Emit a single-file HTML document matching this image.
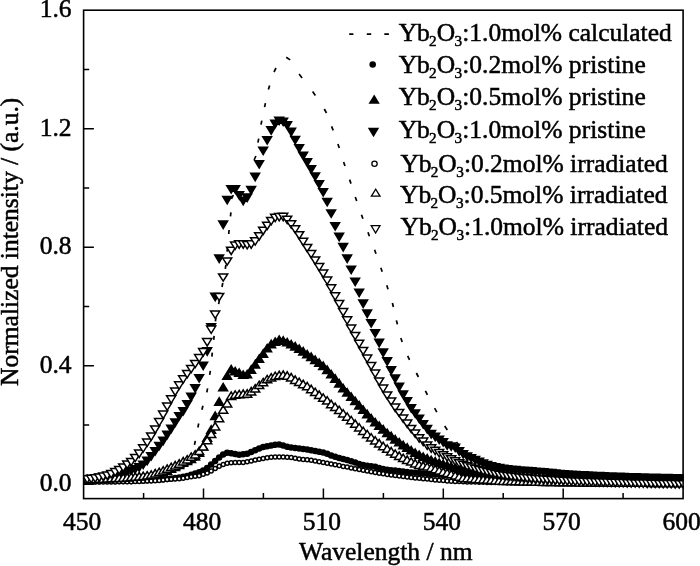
<!DOCTYPE html>
<html lang="en"><head><meta charset="utf-8"><title>Normalized intensity vs wavelength</title>
<style>
html,body{margin:0;padding:0;background:#fff}
body{width:700px;height:566px;overflow:hidden}
svg{display:block}
text{font-family:"Liberation Serif",serif;font-size:25.5px;fill:#000;stroke:#000;stroke-width:0.5px}
.sub{font-size:15.2px}
</style></head><body>
<svg width="700" height="566" viewBox="0 0 700 566">
<rect width="700" height="566" fill="#fff"/>
<defs><clipPath id="pc"><rect x="83.6" y="10.2" width="600.1" height="488.4"/></clipPath></defs>

<g clip-path="url(#pc)">
<g stroke="#000" stroke-width="1.7" fill="none" stroke-linecap="butt">
<path d="M191.1 462.4L191.9 458.4"/>
<path d="M194.5 444.9L195.3 440.9"/>
<path d="M197.9 427.5L198.7 423.5"/>
<path d="M201.9 409.8L202.9 405.8"/>
<path d="M206.8 392.4L207.6 388.4"/>
<path d="M209.7 374.9L210.3 370.9"/>
<path d="M211.9 356.7L212.3 352.7"/>
<path d="M213.7 339.9L214.1 335.9"/>
<path d="M215.4 321.3L216.0 317.3"/>
<path d="M218.6 304.1L219.4 300.1"/>
<path d="M222.0 287.0L222.8 283.0"/>
<path d="M225.3 268.8L225.9 264.8"/>
<path d="M227.1 251.6L227.5 247.6"/>
<path d="M228.7 234.0L229.1 230.0"/>
<path d="M230.5 216.3L230.9 212.3"/>
<path d="M231.5 199.0L233.3 195.0"/>
<path d="M254.1 160.0L255.9 156.0"/>
<path d="M257.9 142.7L258.7 138.7"/>
<path d="M261.0 124.7L261.8 120.7"/>
<path d="M264.6 107.2L265.4 103.2"/>
<path d="M268.4 89.4L269.6 85.4"/>
<path d="M274.0 72.0L276.0 68.0"/>
<path d="M286.2 57.3L290.2 59.9"/>
<path d="M299.1 74.0L302.1 78.0"/>
<path d="M312.6 91.4L315.4 95.4"/>
<path d="M324.3 109.0L326.5 113.0"/>
<path d="M331.6 126.4L333.2 130.4"/>
<path d="M337.9 144.0L339.3 148.0"/>
<path d="M343.6 162.0L345.0 166.0"/>
<path d="M349.6 179.6L351.0 183.6"/>
<path d="M355.3 197.0L356.7 201.0"/>
<path d="M361.5 214.7L362.9 218.7"/>
<path d="M368.0 232.3L369.4 236.3"/>
<path d="M374.6 249.8L376.0 253.8"/>
<path d="M380.8 267.8L382.2 271.8"/>
<path d="M386.8 285.2L388.0 289.2"/>
<path d="M392.4 303.0L393.4 307.0"/>
<path d="M396.4 320.4L397.4 324.4"/>
<path d="M400.8 338.0L402.2 342.0"/>
<path d="M407.7 355.9L409.5 359.9"/>
<path d="M416.4 373.0L418.4 377.0"/>
<path d="M425.4 390.9L427.4 394.9"/>
<path d="M434.6 408.2L436.8 412.2"/>
<path d="M444.7 426.0L447.3 430.0"/>
<path d="M456.5 442.0L459.5 446.0"/>
</g>
<path fill="#000" d="M80.0 481.2a3.25 3.25 0 1 0 6.5 0a3.25 3.25 0 1 0 -6.5 0zM84.0 481.2a3.25 3.25 0 1 0 6.5 0a3.25 3.25 0 1 0 -6.5 0zM88.0 481.2a3.25 3.25 0 1 0 6.5 0a3.25 3.25 0 1 0 -6.5 0zM92.0 481.2a3.25 3.25 0 1 0 6.5 0a3.25 3.25 0 1 0 -6.5 0zM96.0 481.2a3.25 3.25 0 1 0 6.5 0a3.25 3.25 0 1 0 -6.5 0zM100.0 481.1a3.25 3.25 0 1 0 6.5 0a3.25 3.25 0 1 0 -6.5 0zM104.0 481.1a3.25 3.25 0 1 0 6.5 0a3.25 3.25 0 1 0 -6.5 0zM108.0 481.1a3.25 3.25 0 1 0 6.5 0a3.25 3.25 0 1 0 -6.5 0zM112.0 481.1a3.25 3.25 0 1 0 6.5 0a3.25 3.25 0 1 0 -6.5 0zM116.0 481.0a3.25 3.25 0 1 0 6.5 0a3.25 3.25 0 1 0 -6.5 0zM120.0 481.0a3.25 3.25 0 1 0 6.5 0a3.25 3.25 0 1 0 -6.5 0zM124.0 480.9a3.25 3.25 0 1 0 6.5 0a3.25 3.25 0 1 0 -6.5 0zM127.9 480.9a3.25 3.25 0 1 0 6.5 0a3.25 3.25 0 1 0 -6.5 0zM131.9 480.7a3.25 3.25 0 1 0 6.5 0a3.25 3.25 0 1 0 -6.5 0zM135.9 480.6a3.25 3.25 0 1 0 6.5 0a3.25 3.25 0 1 0 -6.5 0zM139.9 480.4a3.25 3.25 0 1 0 6.5 0a3.25 3.25 0 1 0 -6.5 0zM143.9 480.3a3.25 3.25 0 1 0 6.5 0a3.25 3.25 0 1 0 -6.5 0zM147.9 480.0a3.25 3.25 0 1 0 6.5 0a3.25 3.25 0 1 0 -6.5 0zM151.9 479.8a3.25 3.25 0 1 0 6.5 0a3.25 3.25 0 1 0 -6.5 0zM155.9 479.6a3.25 3.25 0 1 0 6.5 0a3.25 3.25 0 1 0 -6.5 0zM159.9 479.3a3.25 3.25 0 1 0 6.5 0a3.25 3.25 0 1 0 -6.5 0zM163.9 479.0a3.25 3.25 0 1 0 6.5 0a3.25 3.25 0 1 0 -6.5 0zM167.9 478.6a3.25 3.25 0 1 0 6.5 0a3.25 3.25 0 1 0 -6.5 0zM171.9 478.1a3.25 3.25 0 1 0 6.5 0a3.25 3.25 0 1 0 -6.5 0zM175.9 477.5a3.25 3.25 0 1 0 6.5 0a3.25 3.25 0 1 0 -6.5 0zM179.9 476.8a3.25 3.25 0 1 0 6.5 0a3.25 3.25 0 1 0 -6.5 0zM183.9 475.9a3.25 3.25 0 1 0 6.5 0a3.25 3.25 0 1 0 -6.5 0zM187.9 474.8a3.25 3.25 0 1 0 6.5 0a3.25 3.25 0 1 0 -6.5 0zM191.9 473.5a3.25 3.25 0 1 0 6.5 0a3.25 3.25 0 1 0 -6.5 0zM195.9 472.2a3.25 3.25 0 1 0 6.5 0a3.25 3.25 0 1 0 -6.5 0zM199.9 470.5a3.25 3.25 0 1 0 6.5 0a3.25 3.25 0 1 0 -6.5 0zM203.9 468.0a3.25 3.25 0 1 0 6.5 0a3.25 3.25 0 1 0 -6.5 0zM207.9 464.5a3.25 3.25 0 1 0 6.5 0a3.25 3.25 0 1 0 -6.5 0zM211.9 461.0a3.25 3.25 0 1 0 6.5 0a3.25 3.25 0 1 0 -6.5 0zM215.9 457.5a3.25 3.25 0 1 0 6.5 0a3.25 3.25 0 1 0 -6.5 0zM219.9 454.5a3.25 3.25 0 1 0 6.5 0a3.25 3.25 0 1 0 -6.5 0zM223.9 452.8a3.25 3.25 0 1 0 6.5 0a3.25 3.25 0 1 0 -6.5 0zM227.9 453.2a3.25 3.25 0 1 0 6.5 0a3.25 3.25 0 1 0 -6.5 0zM231.9 454.0a3.25 3.25 0 1 0 6.5 0a3.25 3.25 0 1 0 -6.5 0zM235.9 454.8a3.25 3.25 0 1 0 6.5 0a3.25 3.25 0 1 0 -6.5 0zM239.9 454.3a3.25 3.25 0 1 0 6.5 0a3.25 3.25 0 1 0 -6.5 0zM243.9 453.8a3.25 3.25 0 1 0 6.5 0a3.25 3.25 0 1 0 -6.5 0zM247.9 452.0a3.25 3.25 0 1 0 6.5 0a3.25 3.25 0 1 0 -6.5 0zM251.9 450.3a3.25 3.25 0 1 0 6.5 0a3.25 3.25 0 1 0 -6.5 0zM255.9 448.6a3.25 3.25 0 1 0 6.5 0a3.25 3.25 0 1 0 -6.5 0zM259.9 447.0a3.25 3.25 0 1 0 6.5 0a3.25 3.25 0 1 0 -6.5 0zM263.9 446.2a3.25 3.25 0 1 0 6.5 0a3.25 3.25 0 1 0 -6.5 0zM267.9 445.6a3.25 3.25 0 1 0 6.5 0a3.25 3.25 0 1 0 -6.5 0zM271.9 444.8a3.25 3.25 0 1 0 6.5 0a3.25 3.25 0 1 0 -6.5 0zM275.9 444.6a3.25 3.25 0 1 0 6.5 0a3.25 3.25 0 1 0 -6.5 0zM279.9 445.5a3.25 3.25 0 1 0 6.5 0a3.25 3.25 0 1 0 -6.5 0zM283.9 446.8a3.25 3.25 0 1 0 6.5 0a3.25 3.25 0 1 0 -6.5 0zM287.9 447.5a3.25 3.25 0 1 0 6.5 0a3.25 3.25 0 1 0 -6.5 0zM291.9 448.0a3.25 3.25 0 1 0 6.5 0a3.25 3.25 0 1 0 -6.5 0zM295.9 448.5a3.25 3.25 0 1 0 6.5 0a3.25 3.25 0 1 0 -6.5 0zM299.9 448.9a3.25 3.25 0 1 0 6.5 0a3.25 3.25 0 1 0 -6.5 0zM303.9 449.5a3.25 3.25 0 1 0 6.5 0a3.25 3.25 0 1 0 -6.5 0zM307.9 450.3a3.25 3.25 0 1 0 6.5 0a3.25 3.25 0 1 0 -6.5 0zM311.9 451.1a3.25 3.25 0 1 0 6.5 0a3.25 3.25 0 1 0 -6.5 0zM315.9 451.8a3.25 3.25 0 1 0 6.5 0a3.25 3.25 0 1 0 -6.5 0zM319.9 452.5a3.25 3.25 0 1 0 6.5 0a3.25 3.25 0 1 0 -6.5 0zM323.9 453.8a3.25 3.25 0 1 0 6.5 0a3.25 3.25 0 1 0 -6.5 0zM327.9 455.4a3.25 3.25 0 1 0 6.5 0a3.25 3.25 0 1 0 -6.5 0zM331.9 456.8a3.25 3.25 0 1 0 6.5 0a3.25 3.25 0 1 0 -6.5 0zM335.9 458.0a3.25 3.25 0 1 0 6.5 0a3.25 3.25 0 1 0 -6.5 0zM339.9 459.0a3.25 3.25 0 1 0 6.5 0a3.25 3.25 0 1 0 -6.5 0zM343.9 460.0a3.25 3.25 0 1 0 6.5 0a3.25 3.25 0 1 0 -6.5 0zM347.9 461.2a3.25 3.25 0 1 0 6.5 0a3.25 3.25 0 1 0 -6.5 0zM351.9 462.5a3.25 3.25 0 1 0 6.5 0a3.25 3.25 0 1 0 -6.5 0zM355.9 463.9a3.25 3.25 0 1 0 6.5 0a3.25 3.25 0 1 0 -6.5 0zM359.9 465.0a3.25 3.25 0 1 0 6.5 0a3.25 3.25 0 1 0 -6.5 0zM363.9 465.7a3.25 3.25 0 1 0 6.5 0a3.25 3.25 0 1 0 -6.5 0zM367.9 466.2a3.25 3.25 0 1 0 6.5 0a3.25 3.25 0 1 0 -6.5 0zM371.9 466.8a3.25 3.25 0 1 0 6.5 0a3.25 3.25 0 1 0 -6.5 0zM375.9 467.9a3.25 3.25 0 1 0 6.5 0a3.25 3.25 0 1 0 -6.5 0zM379.9 469.0a3.25 3.25 0 1 0 6.5 0a3.25 3.25 0 1 0 -6.5 0zM383.9 469.7a3.25 3.25 0 1 0 6.5 0a3.25 3.25 0 1 0 -6.5 0zM387.9 470.2a3.25 3.25 0 1 0 6.5 0a3.25 3.25 0 1 0 -6.5 0zM391.9 470.6a3.25 3.25 0 1 0 6.5 0a3.25 3.25 0 1 0 -6.5 0zM395.9 471.1a3.25 3.25 0 1 0 6.5 0a3.25 3.25 0 1 0 -6.5 0zM399.9 471.5a3.25 3.25 0 1 0 6.5 0a3.25 3.25 0 1 0 -6.5 0zM403.9 471.9a3.25 3.25 0 1 0 6.5 0a3.25 3.25 0 1 0 -6.5 0zM407.9 472.4a3.25 3.25 0 1 0 6.5 0a3.25 3.25 0 1 0 -6.5 0zM411.9 472.8a3.25 3.25 0 1 0 6.5 0a3.25 3.25 0 1 0 -6.5 0zM415.9 473.1a3.25 3.25 0 1 0 6.5 0a3.25 3.25 0 1 0 -6.5 0zM419.9 473.5a3.25 3.25 0 1 0 6.5 0a3.25 3.25 0 1 0 -6.5 0zM423.9 473.8a3.25 3.25 0 1 0 6.5 0a3.25 3.25 0 1 0 -6.5 0zM427.9 474.2a3.25 3.25 0 1 0 6.5 0a3.25 3.25 0 1 0 -6.5 0zM431.9 474.5a3.25 3.25 0 1 0 6.5 0a3.25 3.25 0 1 0 -6.5 0zM435.9 474.7a3.25 3.25 0 1 0 6.5 0a3.25 3.25 0 1 0 -6.5 0zM439.9 475.0a3.25 3.25 0 1 0 6.5 0a3.25 3.25 0 1 0 -6.5 0zM443.9 475.2a3.25 3.25 0 1 0 6.5 0a3.25 3.25 0 1 0 -6.5 0zM447.9 475.5a3.25 3.25 0 1 0 6.5 0a3.25 3.25 0 1 0 -6.5 0zM451.9 475.7a3.25 3.25 0 1 0 6.5 0a3.25 3.25 0 1 0 -6.5 0zM455.9 475.9a3.25 3.25 0 1 0 6.5 0a3.25 3.25 0 1 0 -6.5 0zM459.9 476.2a3.25 3.25 0 1 0 6.5 0a3.25 3.25 0 1 0 -6.5 0zM463.9 476.4a3.25 3.25 0 1 0 6.5 0a3.25 3.25 0 1 0 -6.5 0zM467.9 476.6a3.25 3.25 0 1 0 6.5 0a3.25 3.25 0 1 0 -6.5 0zM471.9 476.7a3.25 3.25 0 1 0 6.5 0a3.25 3.25 0 1 0 -6.5 0zM475.9 476.9a3.25 3.25 0 1 0 6.5 0a3.25 3.25 0 1 0 -6.5 0zM479.9 477.0a3.25 3.25 0 1 0 6.5 0a3.25 3.25 0 1 0 -6.5 0zM483.9 477.1a3.25 3.25 0 1 0 6.5 0a3.25 3.25 0 1 0 -6.5 0zM487.9 477.2a3.25 3.25 0 1 0 6.5 0a3.25 3.25 0 1 0 -6.5 0zM491.9 477.3a3.25 3.25 0 1 0 6.5 0a3.25 3.25 0 1 0 -6.5 0zM495.9 477.4a3.25 3.25 0 1 0 6.5 0a3.25 3.25 0 1 0 -6.5 0zM499.9 477.5a3.25 3.25 0 1 0 6.5 0a3.25 3.25 0 1 0 -6.5 0zM503.9 477.6a3.25 3.25 0 1 0 6.5 0a3.25 3.25 0 1 0 -6.5 0zM507.9 477.7a3.25 3.25 0 1 0 6.5 0a3.25 3.25 0 1 0 -6.5 0zM512.0 477.7a3.25 3.25 0 1 0 6.5 0a3.25 3.25 0 1 0 -6.5 0zM516.0 477.8a3.25 3.25 0 1 0 6.5 0a3.25 3.25 0 1 0 -6.5 0zM520.0 477.8a3.25 3.25 0 1 0 6.5 0a3.25 3.25 0 1 0 -6.5 0zM524.0 477.8a3.25 3.25 0 1 0 6.5 0a3.25 3.25 0 1 0 -6.5 0zM528.0 477.9a3.25 3.25 0 1 0 6.5 0a3.25 3.25 0 1 0 -6.5 0zM532.0 477.9a3.25 3.25 0 1 0 6.5 0a3.25 3.25 0 1 0 -6.5 0zM536.0 477.9a3.25 3.25 0 1 0 6.5 0a3.25 3.25 0 1 0 -6.5 0zM540.0 478.0a3.25 3.25 0 1 0 6.5 0a3.25 3.25 0 1 0 -6.5 0zM544.0 478.0a3.25 3.25 0 1 0 6.5 0a3.25 3.25 0 1 0 -6.5 0zM548.0 478.0a3.25 3.25 0 1 0 6.5 0a3.25 3.25 0 1 0 -6.5 0zM552.0 478.0a3.25 3.25 0 1 0 6.5 0a3.25 3.25 0 1 0 -6.5 0zM556.0 478.1a3.25 3.25 0 1 0 6.5 0a3.25 3.25 0 1 0 -6.5 0zM560.0 478.1a3.25 3.25 0 1 0 6.5 0a3.25 3.25 0 1 0 -6.5 0zM564.0 478.1a3.25 3.25 0 1 0 6.5 0a3.25 3.25 0 1 0 -6.5 0zM568.0 478.1a3.25 3.25 0 1 0 6.5 0a3.25 3.25 0 1 0 -6.5 0zM572.0 478.2a3.25 3.25 0 1 0 6.5 0a3.25 3.25 0 1 0 -6.5 0zM576.0 478.2a3.25 3.25 0 1 0 6.5 0a3.25 3.25 0 1 0 -6.5 0zM580.0 478.2a3.25 3.25 0 1 0 6.5 0a3.25 3.25 0 1 0 -6.5 0zM584.0 478.2a3.25 3.25 0 1 0 6.5 0a3.25 3.25 0 1 0 -6.5 0zM588.0 478.3a3.25 3.25 0 1 0 6.5 0a3.25 3.25 0 1 0 -6.5 0zM592.0 478.3a3.25 3.25 0 1 0 6.5 0a3.25 3.25 0 1 0 -6.5 0zM596.0 478.3a3.25 3.25 0 1 0 6.5 0a3.25 3.25 0 1 0 -6.5 0zM600.0 478.3a3.25 3.25 0 1 0 6.5 0a3.25 3.25 0 1 0 -6.5 0zM604.0 478.3a3.25 3.25 0 1 0 6.5 0a3.25 3.25 0 1 0 -6.5 0zM608.0 478.3a3.25 3.25 0 1 0 6.5 0a3.25 3.25 0 1 0 -6.5 0zM612.0 478.4a3.25 3.25 0 1 0 6.5 0a3.25 3.25 0 1 0 -6.5 0zM616.0 478.4a3.25 3.25 0 1 0 6.5 0a3.25 3.25 0 1 0 -6.5 0zM620.0 478.4a3.25 3.25 0 1 0 6.5 0a3.25 3.25 0 1 0 -6.5 0zM624.0 478.4a3.25 3.25 0 1 0 6.5 0a3.25 3.25 0 1 0 -6.5 0zM628.0 478.4a3.25 3.25 0 1 0 6.5 0a3.25 3.25 0 1 0 -6.5 0zM632.0 478.4a3.25 3.25 0 1 0 6.5 0a3.25 3.25 0 1 0 -6.5 0zM636.0 478.4a3.25 3.25 0 1 0 6.5 0a3.25 3.25 0 1 0 -6.5 0zM640.0 478.5a3.25 3.25 0 1 0 6.5 0a3.25 3.25 0 1 0 -6.5 0zM644.0 478.5a3.25 3.25 0 1 0 6.5 0a3.25 3.25 0 1 0 -6.5 0zM648.0 478.5a3.25 3.25 0 1 0 6.5 0a3.25 3.25 0 1 0 -6.5 0zM652.0 478.5a3.25 3.25 0 1 0 6.5 0a3.25 3.25 0 1 0 -6.5 0zM656.0 478.5a3.25 3.25 0 1 0 6.5 0a3.25 3.25 0 1 0 -6.5 0zM660.0 478.5a3.25 3.25 0 1 0 6.5 0a3.25 3.25 0 1 0 -6.5 0zM664.0 478.5a3.25 3.25 0 1 0 6.5 0a3.25 3.25 0 1 0 -6.5 0zM668.0 478.5a3.25 3.25 0 1 0 6.5 0a3.25 3.25 0 1 0 -6.5 0zM672.0 478.5a3.25 3.25 0 1 0 6.5 0a3.25 3.25 0 1 0 -6.5 0zM676.0 478.5a3.25 3.25 0 1 0 6.5 0a3.25 3.25 0 1 0 -6.5 0zM680.0 478.5a3.25 3.25 0 1 0 6.5 0a3.25 3.25 0 1 0 -6.5 0z"/>
<path fill="#000" d="M77.5 484.1h11.5L83.2 474.5zM81.5 484.1h11.5L87.2 474.5zM85.5 484.0h11.5L91.2 474.4zM89.5 483.9h11.5L95.2 474.3zM93.5 483.8h11.5L99.2 474.2zM97.5 483.6h11.5L103.2 474.0zM101.5 483.4h11.5L107.2 473.8zM105.5 483.2h11.5L111.2 473.6zM109.5 483.0h11.5L115.2 473.4zM113.5 482.8h11.5L119.2 473.2zM117.5 482.6h11.5L123.2 473.0zM121.5 482.4h11.5L127.2 472.8zM125.4 482.1h11.5L131.2 472.5zM129.4 481.8h11.5L135.2 472.2zM133.4 481.4h11.5L139.2 471.8zM137.4 481.0h11.5L143.2 471.4zM141.4 480.5h11.5L147.2 470.9zM145.4 479.9h11.5L151.2 470.3zM149.4 479.1h11.5L155.2 469.5zM153.4 477.9h11.5L159.2 468.3zM157.4 476.6h11.5L163.2 467.0zM161.4 475.0h11.5L167.2 465.4zM165.4 473.1h11.5L171.2 463.5zM169.4 471.2h11.5L175.2 461.6zM173.4 469.2h11.5L179.2 459.6zM177.4 467.1h11.5L183.2 457.5zM181.4 465.2h11.5L187.2 455.6zM185.4 463.2h11.5L191.2 453.6zM189.4 460.8h11.5L195.2 451.2zM193.4 457.1h11.5L199.2 447.5zM197.4 450.6h11.5L203.2 441.0zM201.4 442.1h11.5L207.2 432.5zM205.4 433.9h11.5L211.2 424.3zM209.4 420.2h11.5L215.2 410.6zM213.4 405.9h11.5L219.2 396.3zM217.4 391.6h11.5L223.2 382.0zM221.4 380.1h11.5L227.2 370.5zM225.4 373.5h11.5L231.2 363.9zM229.4 375.6h11.5L235.2 366.0zM233.4 377.1h11.5L239.2 367.5zM237.4 379.0h11.5L243.2 369.4zM241.4 378.5h11.5L247.2 368.9zM245.4 373.9h11.5L251.2 364.3zM249.4 368.7h11.5L255.2 359.1zM253.4 363.0h11.5L259.2 353.4zM257.4 357.9h11.5L263.2 348.3zM261.4 352.5h11.5L267.2 342.9zM265.4 348.4h11.5L271.2 338.8zM269.4 346.0h11.5L275.2 336.4zM273.4 344.1h11.5L279.2 334.5zM277.4 344.9h11.5L283.2 335.3zM281.4 346.6h11.5L287.2 337.0zM285.4 348.5h11.5L291.2 338.9zM289.4 350.7h11.5L295.2 341.1zM293.4 353.1h11.5L299.2 343.5zM297.4 355.7h11.5L303.2 346.1zM301.4 358.5h11.5L307.2 348.9zM305.4 361.2h11.5L311.2 351.6zM309.4 364.2h11.5L315.2 354.6zM313.4 367.1h11.5L319.2 357.5zM317.4 370.2h11.5L323.2 360.6zM321.4 374.2h11.5L327.2 364.6zM325.4 378.5h11.5L331.2 368.9zM329.4 382.9h11.5L335.2 373.3zM333.4 387.7h11.5L339.2 378.1zM337.4 392.5h11.5L343.2 382.9zM341.4 396.8h11.5L347.2 387.2zM345.4 401.1h11.5L351.2 391.5zM349.4 405.3h11.5L355.2 395.7zM353.4 409.7h11.5L359.2 400.1zM357.4 414.1h11.5L363.2 404.5zM361.4 418.4h11.5L367.2 408.8zM365.4 422.6h11.5L371.2 413.0zM369.4 426.6h11.5L375.2 417.0zM373.4 430.1h11.5L379.2 420.5zM377.4 433.7h11.5L383.2 424.1zM381.4 437.3h11.5L387.2 427.7zM385.4 440.4h11.5L391.2 430.8zM389.4 443.7h11.5L395.2 434.1zM393.4 446.6h11.5L399.2 437.0zM397.4 449.4h11.5L403.2 439.8zM401.4 451.9h11.5L407.2 442.3zM405.4 454.5h11.5L411.2 444.9zM409.4 457.0h11.5L415.2 447.4zM413.4 459.1h11.5L419.2 449.5zM417.4 461.1h11.5L423.2 451.4zM421.4 462.7h11.5L427.2 453.1zM425.4 464.3h11.5L431.2 454.7zM429.4 465.7h11.5L435.2 456.1zM433.4 467.0h11.5L439.2 457.4zM437.4 468.3h11.5L443.2 458.7zM441.4 469.6h11.5L447.2 460.0zM445.4 470.8h11.5L451.2 461.2zM449.4 471.9h11.5L455.2 462.3zM453.4 473.0h11.5L459.2 463.4zM457.4 474.0h11.5L463.2 464.4zM461.4 474.9h11.5L467.2 465.3zM465.4 475.8h11.5L471.2 466.2zM469.4 476.6h11.5L475.2 467.0zM473.4 477.4h11.5L479.2 467.8zM477.4 478.1h11.5L483.2 468.5zM481.4 478.6h11.5L487.2 469.0zM485.4 479.0h11.5L491.2 469.4zM489.4 479.4h11.5L495.2 469.8zM493.4 479.8h11.5L499.2 470.2zM497.4 480.1h11.5L503.2 470.5zM501.4 480.4h11.5L507.2 470.8zM505.4 480.8h11.5L511.2 471.2zM509.5 481.1h11.5L515.2 471.5zM513.5 481.3h11.5L519.2 471.7zM517.5 481.6h11.5L523.2 472.0zM521.5 481.8h11.5L527.2 472.2zM525.5 482.1h11.5L531.2 472.5zM529.5 482.3h11.5L535.2 472.7zM533.5 482.5h11.5L539.2 472.9zM537.5 482.7h11.5L543.2 473.1zM541.5 482.9h11.5L547.2 473.3zM545.5 483.1h11.5L551.2 473.5zM549.5 483.3h11.5L555.2 473.7zM553.5 483.5h11.5L559.2 473.9zM557.5 483.6h11.5L563.2 474.0zM561.5 483.7h11.5L567.2 474.1zM565.5 483.9h11.5L571.2 474.3zM569.5 484.0h11.5L575.2 474.4zM573.5 484.1h11.5L579.2 474.5zM577.5 484.2h11.5L583.2 474.6zM581.5 484.3h11.5L587.2 474.7zM585.5 484.4h11.5L591.2 474.8zM589.5 484.5h11.5L595.2 474.9zM593.5 484.5h11.5L599.2 474.9zM597.5 484.6h11.5L603.2 475.0zM601.5 484.7h11.5L607.2 475.1zM605.5 484.7h11.5L611.2 475.1zM609.5 484.8h11.5L615.2 475.2zM613.5 484.9h11.5L619.2 475.3zM617.5 484.9h11.5L623.2 475.3zM621.5 485.0h11.5L627.2 475.4zM625.5 485.1h11.5L631.2 475.5zM629.5 485.1h11.5L635.2 475.5zM633.5 485.2h11.5L639.2 475.6zM637.5 485.2h11.5L643.2 475.6zM641.5 485.3h11.5L647.2 475.7zM645.5 485.3h11.5L651.2 475.7zM649.5 485.4h11.5L655.2 475.8zM653.5 485.4h11.5L659.2 475.8zM657.5 485.5h11.5L663.2 475.9zM661.5 485.5h11.5L667.2 475.9zM665.5 485.5h11.5L671.2 475.9zM669.5 485.6h11.5L675.2 476.0zM673.5 485.6h11.5L679.2 476.0zM677.5 485.6h11.5L683.2 476.0z"/>
<path fill="#000" d="M77.5 475.5h11.5L83.2 485.1zM81.5 475.1h11.5L87.2 484.7zM85.5 474.7h11.5L91.2 484.3zM89.5 474.2h11.5L95.2 483.8zM93.5 473.6h11.5L99.2 483.2zM97.5 473.0h11.5L103.2 482.6zM101.5 472.4h11.5L107.2 482.0zM105.5 471.6h11.5L111.2 481.2zM109.5 470.8h11.5L115.2 480.4zM113.5 470.0h11.5L119.2 479.6zM117.5 469.0h11.5L123.2 478.6zM121.5 467.9h11.5L127.2 477.5zM125.4 466.6h11.5L131.2 476.2zM129.4 465.0h11.5L135.2 474.6zM133.4 463.1h11.5L139.2 472.7zM137.4 460.5h11.5L143.2 470.1zM141.4 456.6h11.5L147.2 466.2zM145.4 452.0h11.5L151.2 461.6zM149.4 446.9h11.5L155.2 456.5zM153.4 441.7h11.5L159.2 451.3zM157.4 436.6h11.5L163.2 446.2zM161.4 430.6h11.5L167.2 440.2zM165.4 424.6h11.5L171.2 434.2zM169.4 418.3h11.5L175.2 427.9zM173.4 412.0h11.5L179.2 421.6zM177.4 406.9h11.5L183.2 416.5zM181.4 400.0h11.5L187.2 409.6zM185.4 392.6h11.5L191.2 402.2zM189.4 384.0h11.5L195.2 393.6zM193.4 373.9h11.5L199.2 383.5zM197.4 361.4h11.5L203.2 371.0zM201.4 347.1h11.5L207.2 356.7zM205.4 323.0h11.5L211.2 332.6zM209.4 292.6h11.5L215.2 302.2zM213.4 254.3h11.5L219.2 263.9zM217.4 220.3h11.5L223.2 229.9zM221.4 195.7h11.5L227.2 205.3zM225.4 185.0h11.5L231.2 194.6zM229.4 185.0h11.5L235.2 194.6zM233.4 191.0h11.5L239.2 200.6zM237.4 196.6h11.5L243.2 206.2zM241.4 193.3h11.5L247.2 202.9zM245.4 185.8h11.5L251.2 195.4zM249.4 172.6h11.5L255.2 182.2zM253.4 160.0h11.5L259.2 169.6zM257.4 146.4h11.5L263.2 156.0zM261.4 136.0h11.5L267.2 145.6zM265.4 126.1h11.5L271.2 135.7zM269.4 119.6h11.5L275.2 129.2zM273.4 116.4h11.5L279.2 126.0zM277.4 117.4h11.5L283.2 127.0zM281.4 121.1h11.5L287.2 130.7zM285.4 127.6h11.5L291.2 137.2zM289.4 135.7h11.5L295.2 145.3zM293.4 143.9h11.5L299.2 153.5zM297.4 151.4h11.5L303.2 161.0zM301.4 158.1h11.5L307.2 167.7zM305.4 165.0h11.5L311.2 174.6zM309.4 172.2h11.5L315.2 181.8zM313.4 180.0h11.5L319.2 189.6zM317.4 188.0h11.5L323.2 197.6zM321.4 197.7h11.5L327.2 207.3zM325.4 209.2h11.5L331.2 218.8zM329.4 222.0h11.5L335.2 231.6zM333.4 232.6h11.5L339.2 242.2zM337.4 242.8h11.5L343.2 252.4zM341.4 254.3h11.5L347.2 263.9zM345.4 265.5h11.5L351.2 275.1zM349.4 277.5h11.5L355.2 287.1zM353.4 288.5h11.5L359.2 298.1zM357.4 299.3h11.5L363.2 308.9zM361.4 309.3h11.5L367.2 318.9zM365.4 318.9h11.5L371.2 328.5zM369.4 329.0h11.5L375.2 338.6zM373.4 338.6h11.5L379.2 348.2zM377.4 348.3h11.5L383.2 357.9zM381.4 357.1h11.5L387.2 366.7zM385.4 366.1h11.5L391.2 375.7zM389.4 374.3h11.5L395.2 383.9zM393.4 382.6h11.5L399.2 392.2zM397.4 390.3h11.5L403.2 399.9zM401.4 397.0h11.5L407.2 406.6zM405.4 404.0h11.5L411.2 413.6zM409.4 409.2h11.5L415.2 418.8zM413.4 414.4h11.5L419.2 424.0zM417.4 420.0h11.5L423.2 429.6zM421.4 424.8h11.5L427.2 434.4zM425.4 429.8h11.5L431.2 439.4zM429.4 432.6h11.5L435.2 442.2zM433.4 435.5h11.5L439.2 445.1zM437.4 437.9h11.5L443.2 447.5zM441.4 441.2h11.5L447.2 450.8zM445.4 442.2h11.5L451.2 451.8zM449.4 443.5h11.5L455.2 453.1zM453.4 447.1h11.5L459.2 456.7zM457.4 449.9h11.5L463.2 459.5zM461.4 452.3h11.5L467.2 461.9zM465.4 454.0h11.5L471.2 463.6zM469.4 455.7h11.5L475.2 465.3zM473.4 457.5h11.5L479.2 467.1zM477.4 459.2h11.5L483.2 468.8zM481.4 460.7h11.5L487.2 470.3zM485.4 462.0h11.5L491.2 471.6zM489.4 463.0h11.5L495.2 472.6zM493.4 463.8h11.5L499.2 473.4zM497.4 464.5h11.5L503.2 474.1zM501.4 465.0h11.5L507.2 474.6zM505.4 465.4h11.5L511.2 475.0zM509.5 465.8h11.5L515.2 475.4zM513.5 466.2h11.5L519.2 475.8zM517.5 466.5h11.5L523.2 476.1zM521.5 466.8h11.5L527.2 476.4zM525.5 467.1h11.5L531.2 476.7zM529.5 467.4h11.5L535.2 477.0zM533.5 467.7h11.5L539.2 477.3zM537.5 468.0h11.5L543.2 477.6zM541.5 468.4h11.5L547.2 478.0zM545.5 468.8h11.5L551.2 478.4zM549.5 469.3h11.5L555.2 478.9zM553.5 469.7h11.5L559.2 479.3zM557.5 470.0h11.5L563.2 479.6zM561.5 470.3h11.5L567.2 479.9zM565.5 470.5h11.5L571.2 480.1zM569.5 470.7h11.5L575.2 480.3zM573.5 471.0h11.5L579.2 480.6zM577.5 471.1h11.5L583.2 480.7zM581.5 471.3h11.5L587.2 480.9zM585.5 471.5h11.5L591.2 481.1zM589.5 471.7h11.5L595.2 481.3zM593.5 471.8h11.5L599.2 481.4zM597.5 472.0h11.5L603.2 481.6zM601.5 472.2h11.5L607.2 481.8zM605.5 472.3h11.5L611.2 481.9zM609.5 472.5h11.5L615.2 482.1zM613.5 472.6h11.5L619.2 482.2zM617.5 472.7h11.5L623.2 482.3zM621.5 472.9h11.5L627.2 482.5zM625.5 473.0h11.5L631.2 482.6zM629.5 473.1h11.5L635.2 482.7zM633.5 473.2h11.5L639.2 482.8zM637.5 473.3h11.5L643.2 482.9zM641.5 473.4h11.5L647.2 483.0zM645.5 473.5h11.5L651.2 483.1zM649.5 473.6h11.5L655.2 483.2zM653.5 473.7h11.5L659.2 483.3zM657.5 473.8h11.5L663.2 483.4zM661.5 473.8h11.5L667.2 483.4zM665.5 473.9h11.5L671.2 483.5zM669.5 474.0h11.5L675.2 483.6zM673.5 474.0h11.5L679.2 483.6zM677.5 474.1h11.5L683.2 483.7z"/>
<g fill="#fff" stroke="#000" stroke-width="1.5"><circle cx="83.2" cy="482.1" r="2"/><circle cx="87.2" cy="482.1" r="2"/><circle cx="91.2" cy="482.1" r="2"/><circle cx="95.2" cy="482.1" r="2"/><circle cx="99.2" cy="482.0" r="2"/><circle cx="103.2" cy="482.0" r="2"/><circle cx="107.2" cy="482.0" r="2"/><circle cx="111.2" cy="481.9" r="2"/><circle cx="115.2" cy="481.9" r="2"/><circle cx="119.2" cy="481.8" r="2"/><circle cx="123.2" cy="481.8" r="2"/><circle cx="127.2" cy="481.7" r="2"/><circle cx="131.2" cy="481.7" r="2"/><circle cx="135.2" cy="481.6" r="2"/><circle cx="139.2" cy="481.4" r="2"/><circle cx="143.2" cy="481.3" r="2"/><circle cx="147.2" cy="481.1" r="2"/><circle cx="151.2" cy="481.0" r="2"/><circle cx="155.2" cy="480.7" r="2"/><circle cx="159.2" cy="480.5" r="2"/><circle cx="163.2" cy="480.0" r="2"/><circle cx="167.2" cy="479.5" r="2"/><circle cx="171.2" cy="479.3" r="2"/><circle cx="175.2" cy="479.1" r="2"/><circle cx="179.2" cy="478.7" r="2"/><circle cx="183.2" cy="478.2" r="2"/><circle cx="187.2" cy="477.5" r="2"/><circle cx="191.2" cy="476.8" r="2"/><circle cx="195.2" cy="476.3" r="2"/><circle cx="199.2" cy="475.7" r="2"/><circle cx="203.2" cy="474.3" r="2"/><circle cx="207.2" cy="472.9" r="2"/><circle cx="211.2" cy="471.1" r="2"/><circle cx="215.2" cy="468.6" r="2"/><circle cx="219.2" cy="466.3" r="2"/><circle cx="223.2" cy="464.6" r="2"/><circle cx="227.2" cy="463.2" r="2"/><circle cx="231.2" cy="462.7" r="2"/><circle cx="235.2" cy="462.6" r="2"/><circle cx="239.2" cy="462.6" r="2"/><circle cx="243.2" cy="462.4" r="2"/><circle cx="247.2" cy="461.8" r="2"/><circle cx="251.2" cy="461.0" r="2"/><circle cx="255.2" cy="460.0" r="2"/><circle cx="259.2" cy="459.2" r="2"/><circle cx="263.2" cy="458.4" r="2"/><circle cx="267.2" cy="457.8" r="2"/><circle cx="271.2" cy="457.3" r="2"/><circle cx="275.2" cy="457.1" r="2"/><circle cx="279.2" cy="457.0" r="2"/><circle cx="283.2" cy="457.0" r="2"/><circle cx="287.2" cy="457.2" r="2"/><circle cx="291.2" cy="457.6" r="2"/><circle cx="295.2" cy="458.2" r="2"/><circle cx="299.2" cy="459.0" r="2"/><circle cx="303.2" cy="459.5" r="2"/><circle cx="307.2" cy="459.8" r="2"/><circle cx="311.2" cy="460.2" r="2"/><circle cx="315.2" cy="460.9" r="2"/><circle cx="319.2" cy="461.7" r="2"/><circle cx="323.2" cy="462.5" r="2"/><circle cx="327.2" cy="463.3" r="2"/><circle cx="331.2" cy="463.9" r="2"/><circle cx="335.2" cy="464.7" r="2"/><circle cx="339.2" cy="465.6" r="2"/><circle cx="343.2" cy="466.4" r="2"/><circle cx="347.2" cy="467.1" r="2"/><circle cx="351.2" cy="467.9" r="2"/><circle cx="355.2" cy="468.8" r="2"/><circle cx="359.2" cy="469.6" r="2"/><circle cx="363.2" cy="470.3" r="2"/><circle cx="367.2" cy="471.1" r="2"/><circle cx="371.2" cy="471.7" r="2"/><circle cx="375.2" cy="472.5" r="2"/><circle cx="379.2" cy="473.2" r="2"/><circle cx="383.2" cy="473.8" r="2"/><circle cx="387.2" cy="474.4" r="2"/><circle cx="391.2" cy="475.0" r="2"/><circle cx="395.2" cy="475.5" r="2"/><circle cx="399.2" cy="476.0" r="2"/><circle cx="403.2" cy="476.5" r="2"/><circle cx="407.2" cy="477.0" r="2"/><circle cx="411.2" cy="477.4" r="2"/><circle cx="415.2" cy="477.9" r="2"/><circle cx="419.2" cy="478.3" r="2"/><circle cx="423.2" cy="478.7" r="2"/><circle cx="427.2" cy="479.1" r="2"/><circle cx="431.2" cy="479.5" r="2"/><circle cx="435.2" cy="479.9" r="2"/><circle cx="439.2" cy="480.3" r="2"/><circle cx="443.2" cy="480.6" r="2"/><circle cx="447.2" cy="480.9" r="2"/><circle cx="451.2" cy="481.2" r="2"/><circle cx="455.2" cy="481.4" r="2"/><circle cx="459.2" cy="481.6" r="2"/><circle cx="463.2" cy="481.8" r="2"/><circle cx="467.2" cy="481.9" r="2"/><circle cx="471.2" cy="482.0" r="2"/><circle cx="475.2" cy="482.1" r="2"/><circle cx="479.2" cy="482.2" r="2"/><circle cx="483.2" cy="482.3" r="2"/><circle cx="487.2" cy="482.4" r="2"/><circle cx="491.2" cy="482.4" r="2"/><circle cx="495.2" cy="482.5" r="2"/><circle cx="499.2" cy="482.6" r="2"/><circle cx="503.2" cy="482.6" r="2"/><circle cx="507.2" cy="482.7" r="2"/><circle cx="511.2" cy="482.7" r="2"/><circle cx="515.2" cy="482.8" r="2"/><circle cx="519.2" cy="482.8" r="2"/><circle cx="523.2" cy="482.8" r="2"/><circle cx="527.2" cy="482.8" r="2"/><circle cx="531.2" cy="482.8" r="2"/><circle cx="535.2" cy="482.8" r="2"/><circle cx="539.2" cy="482.8" r="2"/><circle cx="543.2" cy="482.9" r="2"/><circle cx="547.2" cy="482.9" r="2"/><circle cx="551.2" cy="482.9" r="2"/><circle cx="555.2" cy="482.9" r="2"/><circle cx="559.2" cy="482.9" r="2"/><circle cx="563.2" cy="482.9" r="2"/><circle cx="567.2" cy="482.9" r="2"/><circle cx="571.2" cy="482.9" r="2"/><circle cx="575.2" cy="482.9" r="2"/><circle cx="579.2" cy="482.9" r="2"/><circle cx="583.2" cy="482.9" r="2"/><circle cx="587.2" cy="482.9" r="2"/><circle cx="591.2" cy="482.9" r="2"/><circle cx="595.2" cy="482.9" r="2"/><circle cx="599.2" cy="482.9" r="2"/><circle cx="603.2" cy="483.0" r="2"/><circle cx="607.2" cy="483.0" r="2"/><circle cx="611.2" cy="483.0" r="2"/><circle cx="615.2" cy="483.0" r="2"/><circle cx="619.2" cy="483.0" r="2"/><circle cx="623.2" cy="483.0" r="2"/><circle cx="627.2" cy="483.0" r="2"/><circle cx="631.2" cy="483.0" r="2"/><circle cx="635.2" cy="483.0" r="2"/><circle cx="639.2" cy="483.0" r="2"/><circle cx="643.2" cy="483.0" r="2"/><circle cx="647.2" cy="483.0" r="2"/><circle cx="651.2" cy="483.0" r="2"/><circle cx="655.2" cy="483.0" r="2"/><circle cx="659.2" cy="483.0" r="2"/><circle cx="663.2" cy="483.0" r="2"/><circle cx="667.2" cy="483.0" r="2"/><circle cx="671.2" cy="483.0" r="2"/><circle cx="675.2" cy="483.0" r="2"/><circle cx="679.2" cy="483.0" r="2"/><circle cx="683.2" cy="483.0" r="2"/></g>
<g fill="#fff" stroke="#000" stroke-width="1.50" stroke-linejoin="miter"><path d="M78.7 482.7h9.1L83.2 475.3z"/><path d="M82.7 482.6h9.1L87.2 475.2z"/><path d="M86.7 482.5h9.1L91.2 475.2z"/><path d="M90.7 482.4h9.1L95.2 475.0z"/><path d="M94.7 482.3h9.1L99.2 474.9z"/><path d="M98.7 482.2h9.1L103.2 474.8z"/><path d="M102.7 482.0h9.1L107.2 474.7z"/><path d="M106.7 481.8h9.1L111.2 474.5z"/><path d="M110.7 481.6h9.1L115.2 474.3z"/><path d="M114.7 481.4h9.1L119.2 474.0z"/><path d="M118.7 481.2h9.1L123.2 473.8z"/><path d="M122.7 480.9h9.1L127.2 473.5z"/><path d="M126.6 480.6h9.1L131.2 473.2z"/><path d="M130.6 480.3h9.1L135.2 472.9z"/><path d="M134.6 479.9h9.1L139.2 472.5z"/><path d="M138.6 479.5h9.1L143.2 472.1z"/><path d="M142.6 479.0h9.1L147.2 471.6z"/><path d="M146.6 478.2h9.1L151.2 470.9z"/><path d="M150.6 476.9h9.1L155.2 469.5z"/><path d="M154.6 475.5h9.1L159.2 468.1z"/><path d="M158.6 474.0h9.1L163.2 466.6z"/><path d="M162.6 472.2h9.1L167.2 464.9z"/><path d="M166.6 470.6h9.1L171.2 463.2z"/><path d="M170.6 468.9h9.1L175.2 461.5z"/><path d="M174.6 467.2h9.1L179.2 459.8z"/><path d="M178.6 464.9h9.1L183.2 457.5z"/><path d="M182.6 463.0h9.1L187.2 455.6z"/><path d="M186.6 460.2h9.1L191.2 452.9z"/><path d="M190.6 458.0h9.1L195.2 450.6z"/><path d="M194.6 454.6h9.1L199.2 447.2z"/><path d="M198.6 450.0h9.1L203.2 442.6z"/><path d="M202.6 443.8h9.1L207.2 436.4z"/><path d="M206.6 437.4h9.1L211.2 430.0z"/><path d="M210.6 429.9h9.1L215.2 422.5z"/><path d="M214.6 421.8h9.1L219.2 414.4z"/><path d="M218.6 413.2h9.1L223.2 405.8z"/><path d="M222.6 406.9h9.1L227.2 399.5z"/><path d="M226.6 399.4h9.1L231.2 392.0z"/><path d="M230.6 398.2h9.1L235.2 390.9z"/><path d="M234.6 397.8h9.1L239.2 390.4z"/><path d="M238.6 397.4h9.1L243.2 390.0z"/><path d="M242.6 397.2h9.1L247.2 389.8z"/><path d="M246.6 394.9h9.1L251.2 387.5z"/><path d="M250.6 392.0h9.1L255.2 384.6z"/><path d="M254.6 388.6h9.1L259.2 381.2z"/><path d="M258.6 385.8h9.1L263.2 378.4z"/><path d="M262.6 382.8h9.1L267.2 375.4z"/><path d="M266.6 381.0h9.1L271.2 373.6z"/><path d="M270.6 379.4h9.1L275.2 372.1z"/><path d="M274.6 378.7h9.1L279.2 371.3z"/><path d="M278.6 378.4h9.1L283.2 371.0z"/><path d="M282.6 379.2h9.1L287.2 371.8z"/><path d="M286.6 380.9h9.1L291.2 373.5z"/><path d="M290.6 383.4h9.1L295.2 376.0z"/><path d="M294.6 385.5h9.1L299.2 378.1z"/><path d="M298.6 387.7h9.1L303.2 380.3z"/><path d="M302.6 389.8h9.1L307.2 382.4z"/><path d="M306.6 392.7h9.1L311.2 385.3z"/><path d="M310.6 395.5h9.1L315.2 388.1z"/><path d="M314.6 398.4h9.1L319.2 391.0z"/><path d="M318.6 401.2h9.1L323.2 393.9z"/><path d="M322.6 404.1h9.1L327.2 396.7z"/><path d="M326.6 407.7h9.1L331.2 400.3z"/><path d="M330.6 410.6h9.1L335.2 403.2z"/><path d="M334.6 413.6h9.1L339.2 406.2z"/><path d="M338.6 416.9h9.1L343.2 409.6z"/><path d="M342.6 420.2h9.1L347.2 412.9z"/><path d="M346.6 423.7h9.1L351.2 416.4z"/><path d="M350.6 427.3h9.1L355.2 420.0z"/><path d="M354.6 430.9h9.1L359.2 423.6z"/><path d="M358.6 434.4h9.1L363.2 427.1z"/><path d="M362.6 437.7h9.1L367.2 430.4z"/><path d="M366.6 440.9h9.1L371.2 433.6z"/><path d="M370.6 444.0h9.1L375.2 436.6z"/><path d="M374.6 446.9h9.1L379.2 439.5z"/><path d="M378.6 449.7h9.1L383.2 442.3z"/><path d="M382.6 452.3h9.1L387.2 444.9z"/><path d="M386.6 454.9h9.1L391.2 447.5z"/><path d="M390.6 457.3h9.1L395.2 449.9z"/><path d="M394.6 459.4h9.1L399.2 452.0z"/><path d="M398.6 461.6h9.1L403.2 454.2z"/><path d="M402.6 463.4h9.1L407.2 456.0z"/><path d="M406.6 465.1h9.1L411.2 457.8z"/><path d="M410.6 466.9h9.1L415.2 459.5z"/><path d="M414.6 468.4h9.1L419.2 461.0z"/><path d="M418.6 469.3h9.1L423.2 462.0z"/><path d="M422.6 470.1h9.1L427.2 462.8z"/><path d="M426.6 471.4h9.1L431.2 464.1z"/><path d="M430.6 472.8h9.1L435.2 465.4z"/><path d="M434.6 474.0h9.1L439.2 466.7z"/><path d="M438.6 475.4h9.1L443.2 468.0z"/><path d="M442.6 476.6h9.1L447.2 469.2z"/><path d="M446.6 477.8h9.1L451.2 470.4z"/><path d="M450.6 479.0h9.1L455.2 471.7z"/><path d="M454.6 480.2h9.1L459.2 472.9z"/><path d="M458.6 481.4h9.1L463.2 474.0z"/><path d="M462.6 481.7h9.1L467.2 474.4z"/><path d="M466.6 482.1h9.1L471.2 474.8z"/><path d="M470.6 482.4h9.1L475.2 475.1z"/><path d="M474.6 482.7h9.1L479.2 475.4z"/><path d="M478.6 483.0h9.1L483.2 475.6z"/><path d="M482.6 483.3h9.1L487.2 476.0z"/><path d="M486.6 483.6h9.1L491.2 476.3z"/><path d="M490.6 483.9h9.1L495.2 476.6z"/><path d="M494.6 484.2h9.1L499.2 476.8z"/><path d="M498.6 484.4h9.1L503.2 477.0z"/><path d="M502.6 484.5h9.1L507.2 477.1z"/><path d="M506.6 484.6h9.1L511.2 477.3z"/><path d="M510.7 484.7h9.1L515.2 477.4z"/><path d="M514.7 484.8h9.1L519.2 477.4z"/><path d="M518.7 484.9h9.1L523.2 477.5z"/><path d="M522.7 485.0h9.1L527.2 477.6z"/><path d="M526.7 485.1h9.1L531.2 477.7z"/><path d="M530.7 485.2h9.1L535.2 477.8z"/><path d="M534.7 485.3h9.1L539.2 477.9z"/><path d="M538.7 485.4h9.1L543.2 478.0z"/><path d="M542.7 485.5h9.1L547.2 478.1z"/><path d="M546.7 485.6h9.1L551.2 478.2z"/><path d="M550.7 485.6h9.1L555.2 478.3z"/><path d="M554.7 485.7h9.1L559.2 478.3z"/><path d="M558.7 485.7h9.1L563.2 478.4z"/><path d="M562.7 485.8h9.1L567.2 478.4z"/><path d="M566.7 485.8h9.1L571.2 478.5z"/><path d="M570.7 485.8h9.1L575.2 478.5z"/><path d="M574.7 485.9h9.1L579.2 478.5z"/><path d="M578.7 485.9h9.1L583.2 478.6z"/><path d="M582.7 486.0h9.1L587.2 478.6z"/><path d="M586.7 486.0h9.1L591.2 478.6z"/><path d="M590.7 486.0h9.1L595.2 478.7z"/><path d="M594.7 486.1h9.1L599.2 478.7z"/><path d="M598.7 486.1h9.1L603.2 478.8z"/><path d="M602.7 486.1h9.1L607.2 478.8z"/><path d="M606.7 486.2h9.1L611.2 478.8z"/><path d="M610.7 486.2h9.1L615.2 478.8z"/><path d="M614.7 486.2h9.1L619.2 478.9z"/><path d="M618.7 486.2h9.1L623.2 478.9z"/><path d="M622.7 486.3h9.1L627.2 478.9z"/><path d="M626.7 486.3h9.1L631.2 478.9z"/><path d="M630.7 486.3h9.1L635.2 479.0z"/><path d="M634.7 486.3h9.1L639.2 479.0z"/><path d="M638.7 486.3h9.1L643.2 479.0z"/><path d="M642.7 486.3h9.1L647.2 479.0z"/><path d="M646.7 486.4h9.1L651.2 479.0z"/><path d="M650.7 486.4h9.1L655.2 479.0z"/><path d="M654.7 486.4h9.1L659.2 479.0z"/><path d="M658.7 486.4h9.1L663.2 479.0z"/><path d="M662.7 486.4h9.1L667.2 479.0z"/><path d="M666.7 486.4h9.1L671.2 479.0z"/><path d="M670.7 486.4h9.1L675.2 479.0z"/><path d="M674.7 486.4h9.1L679.2 479.0z"/><path d="M678.7 486.4h9.1L683.2 479.0z"/></g>
<g fill="#fff" stroke="#000" stroke-width="1.50" stroke-linejoin="miter"><path d="M78.7 475.9h9.1L83.2 483.3z"/><path d="M82.7 475.7h9.1L87.2 483.1z"/><path d="M86.7 475.3h9.1L91.2 482.6z"/><path d="M90.7 474.8h9.1L95.2 482.1z"/><path d="M94.7 474.0h9.1L99.2 481.4z"/><path d="M98.7 473.1h9.1L103.2 480.4z"/><path d="M102.7 471.9h9.1L107.2 479.3z"/><path d="M106.7 470.4h9.1L111.2 477.8z"/><path d="M110.7 468.6h9.1L115.2 475.9z"/><path d="M114.7 466.6h9.1L119.2 473.9z"/><path d="M118.7 464.1h9.1L123.2 471.5z"/><path d="M122.7 461.1h9.1L127.2 468.5z"/><path d="M126.6 458.4h9.1L131.2 465.7z"/><path d="M130.6 454.4h9.1L135.2 461.7z"/><path d="M134.6 450.1h9.1L139.2 457.5z"/><path d="M138.6 444.8h9.1L143.2 452.1z"/><path d="M142.6 439.1h9.1L147.2 446.4z"/><path d="M146.6 432.9h9.1L151.2 440.3z"/><path d="M150.6 425.9h9.1L155.2 433.2z"/><path d="M154.6 418.6h9.1L159.2 425.9z"/><path d="M158.6 411.1h9.1L163.2 418.5z"/><path d="M162.6 402.9h9.1L167.2 410.3z"/><path d="M166.6 395.8h9.1L171.2 403.1z"/><path d="M170.6 388.1h9.1L175.2 395.5z"/><path d="M174.6 381.8h9.1L179.2 389.1z"/><path d="M178.6 375.8h9.1L183.2 383.1z"/><path d="M182.6 370.4h9.1L187.2 377.8z"/><path d="M186.6 365.4h9.1L191.2 372.7z"/><path d="M190.6 360.4h9.1L195.2 367.7z"/><path d="M194.6 354.6h9.1L199.2 362.0z"/><path d="M198.6 348.6h9.1L203.2 356.0z"/><path d="M202.6 338.6h9.1L207.2 346.0z"/><path d="M206.6 326.1h9.1L211.2 333.4z"/><path d="M210.6 311.1h9.1L215.2 318.4z"/><path d="M214.6 293.4h9.1L219.2 300.7z"/><path d="M218.6 273.9h9.1L223.2 281.2z"/><path d="M222.6 257.9h9.1L227.2 265.2z"/><path d="M226.6 247.2h9.1L231.2 254.5z"/><path d="M230.6 242.1h9.1L235.2 249.4z"/><path d="M234.6 240.8h9.1L239.2 248.2z"/><path d="M238.6 240.8h9.1L243.2 248.2z"/><path d="M242.6 241.4h9.1L247.2 248.8z"/><path d="M246.6 240.8h9.1L251.2 248.2z"/><path d="M250.6 237.8h9.1L255.2 245.1z"/><path d="M254.6 232.7h9.1L259.2 240.0z"/><path d="M258.6 227.2h9.1L263.2 234.5z"/><path d="M262.6 222.2h9.1L267.2 229.5z"/><path d="M266.6 217.4h9.1L271.2 224.8z"/><path d="M270.6 214.2h9.1L275.2 221.6z"/><path d="M274.6 213.4h9.1L279.2 220.8z"/><path d="M278.6 213.3h9.1L283.2 220.7z"/><path d="M282.6 216.2h9.1L287.2 223.6z"/><path d="M286.6 220.8h9.1L291.2 228.1z"/><path d="M290.6 225.8h9.1L295.2 233.1z"/><path d="M294.6 231.7h9.1L299.2 239.0z"/><path d="M298.6 238.2h9.1L303.2 245.6z"/><path d="M302.6 244.4h9.1L307.2 251.8z"/><path d="M306.6 250.6h9.1L311.2 257.9z"/><path d="M310.6 256.9h9.1L315.2 264.3z"/><path d="M314.6 263.6h9.1L319.2 270.9z"/><path d="M318.6 270.1h9.1L323.2 277.5z"/><path d="M322.6 277.1h9.1L327.2 284.4z"/><path d="M326.6 284.8h9.1L331.2 292.1z"/><path d="M330.6 292.8h9.1L335.2 300.1z"/><path d="M334.6 300.4h9.1L339.2 307.8z"/><path d="M338.6 308.6h9.1L343.2 316.0z"/><path d="M342.6 316.8h9.1L347.2 324.1z"/><path d="M346.6 325.1h9.1L351.2 332.4z"/><path d="M350.6 332.4h9.1L355.2 339.7z"/><path d="M354.6 340.2h9.1L359.2 347.6z"/><path d="M358.6 347.4h9.1L363.2 354.7z"/><path d="M362.6 355.1h9.1L367.2 362.4z"/><path d="M366.6 362.4h9.1L371.2 369.8z"/><path d="M370.6 370.1h9.1L375.2 377.4z"/><path d="M374.6 377.9h9.1L379.2 385.2z"/><path d="M378.6 385.1h9.1L383.2 392.4z"/><path d="M382.6 391.9h9.1L387.2 399.2z"/><path d="M386.6 397.9h9.1L391.2 405.2z"/><path d="M390.6 404.1h9.1L395.2 411.5z"/><path d="M394.6 409.4h9.1L399.2 416.7z"/><path d="M398.6 415.1h9.1L403.2 422.4z"/><path d="M402.6 420.1h9.1L407.2 427.5z"/><path d="M406.6 425.4h9.1L411.2 432.7z"/><path d="M410.6 430.1h9.1L415.2 437.4z"/><path d="M414.6 434.8h9.1L419.2 442.1z"/><path d="M418.6 438.1h9.1L423.2 445.5z"/><path d="M422.6 442.1h9.1L427.2 449.4z"/><path d="M426.6 444.8h9.1L431.2 452.2z"/><path d="M430.6 447.2h9.1L435.2 454.6z"/><path d="M434.6 449.6h9.1L439.2 456.9z"/><path d="M438.6 451.8h9.1L443.2 459.1z"/><path d="M442.6 453.8h9.1L447.2 461.1z"/><path d="M446.6 455.8h9.1L451.2 463.1z"/><path d="M450.6 457.8h9.1L455.2 465.2z"/><path d="M454.6 459.8h9.1L459.2 467.1z"/><path d="M458.6 461.3h9.1L463.2 468.7z"/><path d="M462.6 462.8h9.1L467.2 470.1z"/><path d="M466.6 464.0h9.1L471.2 471.4z"/><path d="M470.6 465.2h9.1L475.2 472.6z"/><path d="M474.6 466.5h9.1L479.2 473.8z"/><path d="M478.6 467.6h9.1L483.2 474.9z"/><path d="M482.6 468.5h9.1L487.2 475.9z"/><path d="M486.6 469.5h9.1L491.2 476.8z"/><path d="M490.6 470.4h9.1L495.2 477.7z"/><path d="M494.6 471.2h9.1L499.2 478.5z"/><path d="M498.6 471.9h9.1L503.2 479.2z"/><path d="M502.6 472.5h9.1L507.2 479.8z"/><path d="M506.6 473.0h9.1L511.2 480.4z"/><path d="M510.7 473.5h9.1L515.2 480.8z"/><path d="M514.7 473.9h9.1L519.2 481.3z"/><path d="M518.7 474.4h9.1L523.2 481.7z"/><path d="M522.7 474.8h9.1L527.2 482.1z"/><path d="M526.7 475.1h9.1L531.2 482.5z"/><path d="M530.7 475.4h9.1L535.2 482.8z"/><path d="M534.7 475.8h9.1L539.2 483.1z"/><path d="M538.7 476.0h9.1L543.2 483.4z"/><path d="M542.7 476.3h9.1L547.2 483.7z"/><path d="M546.7 476.6h9.1L551.2 483.9z"/><path d="M550.7 476.8h9.1L555.2 484.2z"/><path d="M554.7 477.1h9.1L559.2 484.4z"/><path d="M558.7 477.3h9.1L563.2 484.7z"/><path d="M562.7 477.5h9.1L567.2 484.9z"/><path d="M566.7 477.7h9.1L571.2 485.1z"/><path d="M570.7 477.9h9.1L575.2 485.3z"/><path d="M574.7 478.1h9.1L579.2 485.4z"/><path d="M578.7 478.2h9.1L583.2 485.6z"/><path d="M582.7 478.4h9.1L587.2 485.8z"/><path d="M586.7 478.6h9.1L591.2 485.9z"/><path d="M590.7 478.7h9.1L595.2 486.1z"/><path d="M594.7 478.8h9.1L599.2 486.2z"/><path d="M598.7 479.0h9.1L603.2 486.3z"/><path d="M602.7 479.1h9.1L607.2 486.5z"/><path d="M606.7 479.2h9.1L611.2 486.6z"/><path d="M610.7 479.3h9.1L615.2 486.7z"/><path d="M614.7 479.5h9.1L619.2 486.8z"/><path d="M618.7 479.6h9.1L623.2 486.9z"/><path d="M622.7 479.7h9.1L627.2 487.0z"/><path d="M626.7 479.8h9.1L631.2 487.1z"/><path d="M630.7 479.9h9.1L635.2 487.2z"/><path d="M634.7 480.0h9.1L639.2 487.3z"/><path d="M638.7 480.1h9.1L643.2 487.4z"/><path d="M642.7 480.1h9.1L647.2 487.5z"/><path d="M646.7 480.2h9.1L651.2 487.6z"/><path d="M650.7 480.3h9.1L655.2 487.6z"/><path d="M654.7 480.4h9.1L659.2 487.7z"/><path d="M658.7 480.4h9.1L663.2 487.8z"/><path d="M662.7 480.5h9.1L667.2 487.9z"/><path d="M666.7 480.6h9.1L671.2 487.9z"/><path d="M670.7 480.6h9.1L675.2 488.0z"/><path d="M674.7 480.7h9.1L679.2 488.0z"/><path d="M678.7 480.8h9.1L683.2 488.1z"/></g>
</g>
<rect x="83.6" y="10.2" width="599.5" height="488.4" fill="none" stroke="#000" stroke-width="1.6"/>
<path d="M143.6 498.6v-5.5M203.5 498.6v-10M263.4 498.6v-5.5M323.4 498.6v-10M383.4 498.6v-5.5M443.3 498.6v-10M503.2 498.6v-5.5M563.2 498.6v-10M623.1 498.6v-5.5M83.6 484.2h10.3M83.6 424.9h5.6M83.6 365.7h10.3M83.6 306.4h5.6M83.6 247.2h10.3M83.6 187.9h5.6M83.6 128.7h10.3M83.6 69.4h5.6" stroke="#000" stroke-width="1.5" fill="none"/>
<text x="82.1" y="530" text-anchor="middle">450</text>
<text x="202.0" y="530" text-anchor="middle">480</text>
<text x="321.9" y="530" text-anchor="middle">510</text>
<text x="441.8" y="530" text-anchor="middle">540</text>
<text x="561.7" y="530" text-anchor="middle">570</text>
<text x="681.6" y="530" text-anchor="middle">600</text>
<text x="71.5" y="491.1" text-anchor="end">0.0</text>
<text x="71.5" y="372.6" text-anchor="end">0.4</text>
<text x="71.5" y="254.1" text-anchor="end">0.8</text>
<text x="71.5" y="135.6" text-anchor="end">1.2</text>
<text x="71.5" y="17.1" text-anchor="end">1.6</text>
<text x="385.7" y="560" text-anchor="middle">Wavelength / nm</text>
<text transform="translate(18.3 241.8) rotate(-90)" text-anchor="middle">Normalized intensity / (a.u.)</text>
<text x="398.7" y="40.9">Yb<tspan class="sub" dy="5" dx="-0.8">2</tspan><tspan dy="-5">O</tspan><tspan class="sub" dy="5" dx="-0.5">3</tspan><tspan dy="-5" letter-spacing="0">:1.0mol% calculated</tspan></text>
<text x="398.7" y="72.9">Yb<tspan class="sub" dy="5" dx="-0.8">2</tspan><tspan dy="-5">O</tspan><tspan class="sub" dy="5" dx="-0.5">3</tspan><tspan dy="-5" letter-spacing="0.05">:0.2mol% pristine</tspan></text>
<text x="398.7" y="105.2">Yb<tspan class="sub" dy="5" dx="-0.8">2</tspan><tspan dy="-5">O</tspan><tspan class="sub" dy="5" dx="-0.5">3</tspan><tspan dy="-5" letter-spacing="0.05">:0.5mol% pristine</tspan></text>
<text x="398.7" y="137.9">Yb<tspan class="sub" dy="5" dx="-0.8">2</tspan><tspan dy="-5">O</tspan><tspan class="sub" dy="5" dx="-0.5">3</tspan><tspan dy="-5" letter-spacing="0.05">:1.0mol% pristine</tspan></text>
<text x="400.4" y="171.5">Yb<tspan class="sub" dy="5" dx="-0.8">2</tspan><tspan dy="-5">O</tspan><tspan class="sub" dy="5" dx="-0.5">3</tspan><tspan dy="-5" letter-spacing="0">:0.2mol% irradiated</tspan></text>
<text x="400.1" y="202.6">Yb<tspan class="sub" dy="5" dx="-0.8">2</tspan><tspan dy="-5">O</tspan><tspan class="sub" dy="5" dx="-0.5">3</tspan><tspan dy="-5" letter-spacing="0">:0.5mol% irradiated</tspan></text>
<text x="400.6" y="234.9">Yb<tspan class="sub" dy="5" dx="-0.8">2</tspan><tspan dy="-5">O</tspan><tspan class="sub" dy="5" dx="-0.5">3</tspan><tspan dy="-5" letter-spacing="0">:1.0mol% irradiated</tspan></text>
<path d="M349.2 34.1h4.2M366.8 34.1h4.4M384.3 34.1h4.6" stroke="#000" stroke-width="1.6" fill="none"/>
<circle cx="372.7" cy="64.5" r="3.25" fill="#000"/>
<path fill="#000" d="M368.5 103.8h11.3L374.2 94.5z"/>
<path fill="#000" d="M367.8 127.8h11.4L373.5 137.2z"/>
<circle cx="374.5" cy="163.7" r="2.65" fill="#fff" stroke="#000" stroke-width="1.3"/>
<path fill="#fff" stroke="#000" stroke-width="1.3" d="M371.4 196.1h8.6L375.7 189.2z"/>
<path fill="#fff" stroke="#000" stroke-width="1.3" d="M371.2 225.7h8.8L375.6 233.1z"/>
</svg></body></html>
